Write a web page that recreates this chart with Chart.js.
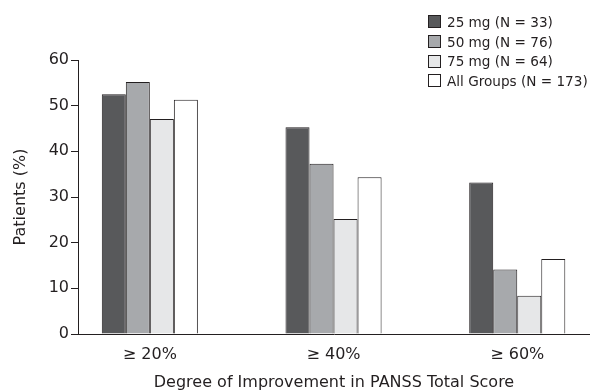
<!DOCTYPE html>
<html>
<head>
<meta charset="utf-8">
<script src="https://cdn.jsdelivr.net/npm/chart.js@4"></script>
<style>
  body { margin: 0; background: #fff; }
  #wrap { position: relative; width: 590px; height: 391px; }
  #legend {
    position: absolute; left: 428px; top: 12px;
    font-family: "DejaVu Sans", sans-serif; font-size: 13.6px; color: #231f20;
  }
  #legend .row { display: flex; align-items: center; height: 19.7px; white-space: nowrap; }
  #legend .box { width: 11px; height: 11px; border: 1px solid #231f20; margin-right: 6px; }
</style>
</head>
<body>
<div id="wrap">
  <canvas id="improvementChart" width="590" height="391"></canvas>
  <div id="legend"></div>
</div>
<script>
// categories (x axis) and series values
const categories = ['≥ 20%', '≥ 40%', '≥ 60%'];
const seriesLabels = ['25 mg (N = 33)', '50 mg (N = 76)', '75 mg (N = 64)', 'All Groups (N = 173)'];
const dose25 = [52.5, 45.3, 33.2];
const dose50 = [55.2, 37.3, 14.1];
const dose75 = [47.1, 25.2, 8.4];
const allGroups = [51.3, 34.3, 16.4];
const yTicks = [0, 10, 20, 30, 40, 50, 60];

const fills = ['#58595b', '#a7a9ac', '#e6e7e8', '#ffffff'];
const ink = '#231f20';
const font = { family: 'DejaVu Sans', size: 16 };

const seriesValues = [dose25, dose50, dose75, allGroups];

const datasets = seriesValues.map(function(vals, i) {
    return {
        label: seriesLabels[i],
        data: vals.map((v, k) => ({ x: k, y: v })),
        backgroundColor: fills[i],
        borderColor: ink,
        borderWidth: 1,
        categoryPercentage: 0.523,
        barPercentage: 1.0
    };
});

const ctx = document.getElementById('improvementChart').getContext('2d');
new Chart(ctx, {
    type: 'bar',
    data: { datasets: datasets },
    options: {
        responsive: false,
        animation: false,
        layout: { padding: { top: 60, right: 0, left: 0, bottom: 0 } },
        plugins: {
            legend: { display: false },
            tooltip: { enabled: false }
        },
        scales: {
            x: {
                type: 'linear',
                offset: false,
                min: -0.391,
                max: 2.396,
                afterBuildTicks: function(scale) {
                    scale.ticks = categories.map((c, i) => ({ value: i }));
                },
                afterFit: function(scale) { scale.height = 57; },
                grid: { display: true, offset: false, drawOnChartArea: false, drawTicks: false },
                border: { display: true, color: ink, width: 1 },
                ticks: {
                    autoSkip: false,
                    maxRotation: 0,
                    padding: 11,
                    color: ink,
                    font: font,
                    callback: function(value) { return categories[value]; }
                },
                title: {
                    display: true,
                    text: 'Degree of Improvement in PANSS Total Score',
                    color: ink,
                    font: font,
                    padding: { top: 0, bottom: -1 }
                }
            },
            y: {
                min: 0,
                max: 60,
                afterBuildTicks: function(scale) {
                    scale.ticks = yTicks.map(v => ({ value: v }));
                },
                afterFit: function(scale) { scale.width = 78; },
                grid: { display: true, drawOnChartArea: false, drawTicks: true, tickLength: 7, color: ink },
                border: { display: true, color: ink, width: 1 },
                ticks: { padding: 2, color: ink, font: font },
                title: {
                    display: true,
                    text: 'Patients (%)',
                    color: ink,
                    font: font,
                    padding: { top: 11, bottom: 0 }
                }
            }
        }
    }
});

// legend drawn as html so it does not take room from the plot
const legend = document.getElementById('legend');
seriesLabels.forEach(function(label, i) {
    const row = document.createElement('div');
    row.className = 'row';
    const box = document.createElement('span');
    box.className = 'box';
    box.style.background = fills[i];
    const txt = document.createElement('span');
    txt.textContent = label;
    row.appendChild(box);
    row.appendChild(txt);
    legend.appendChild(row);
});
</script>
</body>
</html>
